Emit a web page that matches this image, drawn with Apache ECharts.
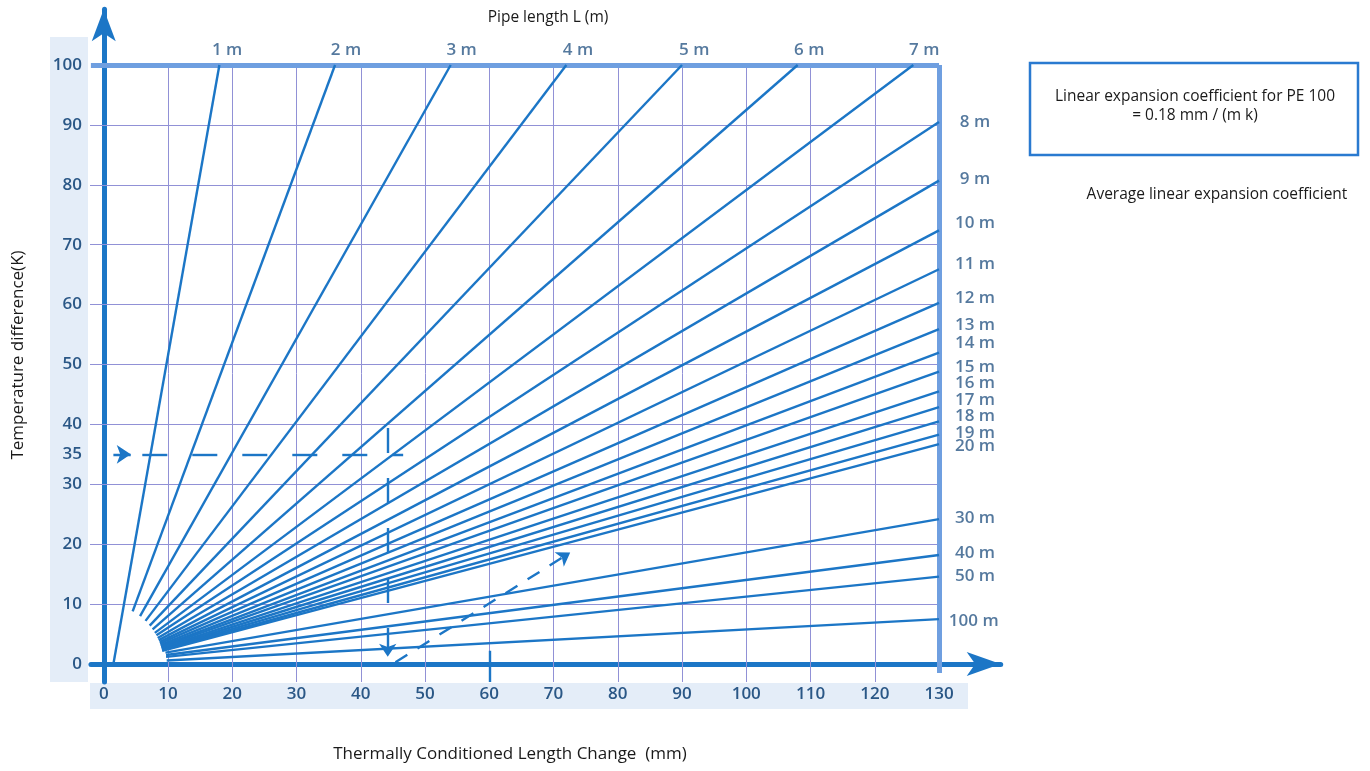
<!DOCTYPE html>
<html><head><meta charset="utf-8">
<script src="https://cdn.jsdelivr.net/npm/echarts@6/dist/echarts.min.js"></script>
<style>html,body{margin:0;padding:0;background:#fff}#c{width:1370px;height:771px}</style>
</head><body><div id="c"></div>
<script>
// ---- data ----
const pipeNames = ['1 m','2 m','3 m','4 m','5 m','6 m','7 m','8 m','9 m','10 m','11 m','12 m','13 m','14 m','15 m','16 m','17 m','18 m','19 m','20 m','30 m','40 m','50 m','100 m'];
// start of each line (mm, K)
const startX = [1.5, 4.5, 5.65, 6.5, 7.15, 7.6, 7.95, 8.2, 8.4, 8.55, 8.7, 8.75, 8.85, 8.9, 8.95, 9.0, 9.05, 9.05, 9.1, 9.1, 9.6, 9.7, 9.7, 9.8];
const startY = [0, 8.8, 8.0, 7.2, 6.4, 5.8, 5.2, 4.8, 4.35, 4.0, 3.7, 3.45, 3.2, 3.0, 2.85, 2.7, 2.55, 2.4, 2.3, 2.2, 1.9, 1.5, 1.2, 0.6];
// end of each line (mm, K)
const endX = [18, 36, 54, 72, 90, 108, 126, 130, 130, 130, 130, 130, 130, 130, 130, 130, 130, 130, 130, 130, 130, 130, 130, 130];
const endY = [100, 100, 100, 100, 100, 100, 100, 90.5, 80.7, 72.4, 65.9, 60.3, 55.9, 52.0, 48.8, 45.5, 42.9, 40.5, 38.3, 36.7, 24.2, 18.2, 14.6, 7.5];
// label anchor of each line name (mm, K)
const labelX = [19.2, 37.7, 55.7, 73.8, 91.9, 109.8, 127.7, 135.6, 135.6, 135.6, 135.6, 135.6, 135.6, 135.6, 135.6, 135.6, 135.6, 135.6, 135.6, 135.6, 135.6, 135.6, 135.6, 135.4];
const labelY = [102.5, 102.5, 102.5, 102.5, 102.5, 102.5, 102.5, 90.5, 80.9, 73.6, 66.8, 61.0, 56.6, 53.5, 49.5, 46.9, 44.1, 41.3, 38.5, 36.3, 24.3, 18.5, 14.7, 7.2];
// axis tick labels
const xTicks = [0,10,20,30,40,50,60,70,80,90,100,110,120,130];
const yTicks = [0,10,20,30,35,40,50,60,70,80,90,100];
const xGrid = [10,20,30,40,50,60,70,80,90,100,110,120];
const yGrid = [10,20,30,40,50,60,70,80,90];
// example reading (dashed arrows)
const exampleH = [[6.0, 35], [46.6, 35]];
const exampleHArrow = [[1.5, 35], [4.2, 35]];
const exampleV = [[44.2, 39.4], [44.2, 1.2]];
const exampleD = [[45.4, 0.3], [72.6, 18.6]];
const tick60 = [[60, -3], [60, 2.2]];

// ---- chart ----
const BLUE = '#1c76c6';
const TXT = '#2a5786';
const FONT = '"Open Sans", "Noto Sans", sans-serif';
const chart = echarts.init(document.getElementById('c'), null, {renderer: 'canvas'});

const fanData = pipeNames.map((n, i) => ({name: n, coords: [[startX[i], startY[i]], [endX[i], endY[i]]]}));
const gridData = xGrid.map(v => ({coords: [[v, -3], [v, 100]]}))
  .concat(yGrid.map(v => ({coords: [[-2.4, v], [130, v]]})));
const labelData = pipeNames.map((n, i) => [labelX[i], labelY[i], n]);

chart.setOption({
  animation: false,
  backgroundColor: '#ffffff',
  grid: {left: 90.9, right: 369.3, top: 9.3, bottom: 89, containLabel: false},
  xAxis: {
    type: 'value', min: -2, max: 139.6,
    axisLine: {show: true, onZero: true, symbol: ['none', 'arrow'], symbolSize: [18, 34],
      lineStyle: {color: BLUE, width: 5}},
    axisTick: {show: false},
    splitLine: {show: false},
    axisLabel: {customValues: xTicks, margin: 4, color: TXT, fontSize: 17, fontWeight: 600, fontFamily: FONT}
  },
  yAxis: {
    type: 'value', min: -3, max: 109.3,
    axisLine: {show: true, onZero: true, symbol: ['none', 'arrow'], symbolSize: [18, 32],
      lineStyle: {color: BLUE, width: 5}},
    axisTick: {show: false},
    splitLine: {show: false},
    axisLabel: {customValues: yTicks, margin: 9, color: TXT, fontSize: 17, fontWeight: 600, fontFamily: FONT}
  },
  graphic: [
    {type: 'rect', z: -10, shape: {x: 50, y: 37, width: 38, height: 645}, style: {fill: '#e4edf8'}},
    {type: 'rect', z: -10, shape: {x: 90, y: 683, width: 878, height: 26}, style: {fill: '#e4edf8'}},
    {type: 'text', x: 548, y: 18, style: {text: 'Pipe length L (m)', textAlign: 'center', textVerticalAlign: 'middle', font: '15.5px ' + FONT, fill: '#1a1a1a'}},
    {type: 'text', x: 18, y: 355, rotation: Math.PI / 2, style: {text: 'Temperature difference(K)', textAlign: 'center', textVerticalAlign: 'middle', font: '17px ' + FONT, fill: '#1a1a1a'}},
    {type: 'text', x: 510, y: 754, style: {text: 'Thermally Conditioned Length Change  (mm)', textAlign: 'center', textVerticalAlign: 'middle', font: '17px ' + FONT, fill: '#1a1a1a'}},
    {type: 'rect', shape: {x: 1030, y: 63, width: 328, height: 92}, style: {fill: 'none', stroke: '#2a7ad0', lineWidth: 2.5}},
    {type: 'text', x: 1195, y: 97, style: {text: 'Linear expansion coefficient for PE 100', textAlign: 'center', textVerticalAlign: 'middle', font: '15.5px ' + FONT, fill: '#1a1a1a'}},
    {type: 'text', x: 1195, y: 116, style: {text: '= 0.18 mm / (m k)', textAlign: 'center', textVerticalAlign: 'middle', font: '15.5px ' + FONT, fill: '#1a1a1a'}},
    {type: 'text', x: 1217, y: 195, style: {text: 'Average linear expansion coefficient', textAlign: 'center', textVerticalAlign: 'middle', font: '15.5px ' + FONT, fill: '#1a1a1a'}}
  ],
  series: [
    {type: 'lines', coordinateSystem: 'cartesian2d', z: 1, silent: true,
      lineStyle: {color: '#9191d6', width: 1, opacity: 1}, data: gridData},
    {type: 'lines', coordinateSystem: 'cartesian2d', z: 2, silent: true,
      lineStyle: {color: '#6f9fe0', width: 5, opacity: 1},
      data: [{coords: [[-2, 100], [130, 100]]}, {coords: [[130, -1.5], [130, 100]]}]},
    {type: 'lines', coordinateSystem: 'cartesian2d', z: 3, silent: true,
      lineStyle: {color: BLUE, width: 2.4, opacity: 1}, data: fanData},
    {type: 'lines', coordinateSystem: 'cartesian2d', z: 3, silent: true,
      symbol: ['none', 'arrow'], symbolSize: 13,
      lineStyle: {color: BLUE, width: 2.4, opacity: 1, type: [25, 25]},
      data: [{coords: exampleH, symbol: ['none', 'none']}, {coords: exampleV}]},
    {type: 'lines', coordinateSystem: 'cartesian2d', z: 3, silent: true,
      symbol: ['none', 'arrow'], symbolSize: 13,
      lineStyle: {color: BLUE, width: 2.4, opacity: 1, type: [14, 12]},
      data: [{coords: exampleD}]},
    {type: 'lines', coordinateSystem: 'cartesian2d', z: 3, silent: true,
      symbol: ['none', 'arrow'], symbolSize: 14,
      lineStyle: {color: BLUE, width: 2.4, opacity: 1},
      data: [{coords: exampleHArrow}, {coords: tick60, symbol: ['none', 'none']}]},
    {type: 'scatter', z: 4, silent: true, symbolSize: 0, data: labelData,
      label: {show: true, position: 'inside', formatter: p => p.value[2], color: TXT, fontSize: 17, fontWeight: 600, fontFamily: FONT}}
  ]
});
</script>
</body></html>
